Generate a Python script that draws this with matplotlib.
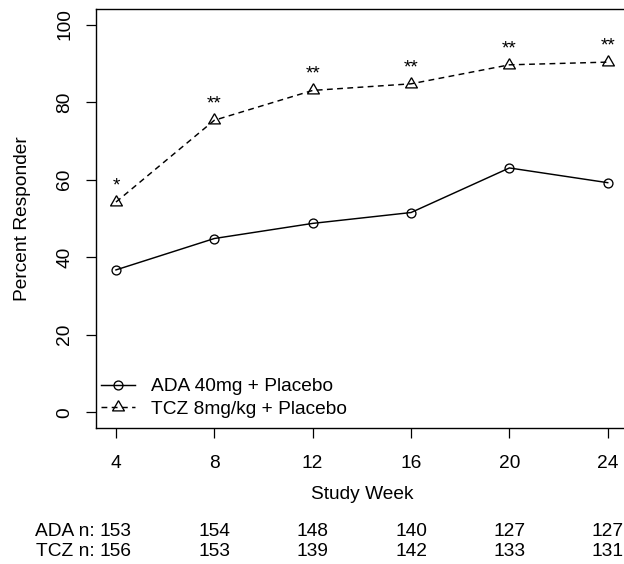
import matplotlib
matplotlib.use("Agg")
import matplotlib.pyplot as plt
import matplotlib.transforms as mtransforms

weeks = [4, 8, 12, 16, 20, 24]
ada_pct = [36.7, 44.8, 48.7, 51.5, 63.0, 59.2]
tcz_pct = [54.2, 75.3, 83.0, 84.7, 89.6, 90.3]
signif = ["*", "**", "**", "**", "**", "**"]
ada_n = [153, 154, 148, 140, 127, 127]
tcz_n = [156, 153, 139, 142, 133, 131]
yticks = [0, 20, 40, 60, 80, 100]
ada_label = "ADA 40mg + Placebo"
tcz_label = "TCZ 8mg/kg + Placebo"

plt.rcParams['font.family'] = ['Liberation Sans', 'DejaVu Sans']
FS = 13.8

fig = plt.figure(figsize=(6.24, 5.64), dpi=100)
ax = fig.add_axes([96.3/624, 1-427.7/564, (627.4-96.3)/624, (427.7-9)/564])

tri = [(0, 1), (-0.866, -0.5), (0.866, -0.5), (0, 1)]

ax.plot(weeks, ada_pct, color='black', lw=1.05, marker='o', ms=6.4,
        mfc='none', mec='black', mew=0.95, label=ada_label)
ax.plot(weeks, tcz_pct, color='black', lw=1.05, ls=(0, (4, 3)), marker=tri, ms=9.8,
        mfc='none', mec='black', mew=0.95, label=tcz_label)

for w, v, s in zip(weeks, tcz_pct, signif):
    ax.text(w, v + 4.2, s, ha='center', va='center', fontsize=FS, color='black')

ax.set_xlim(3.2, 24.8)
ax.set_ylim(-4, 104)
ax.set_xticks(weeks)
ax.set_xticklabels([str(w) for w in weeks], fontsize=FS)
ax.set_yticks(yticks)
ax.set_yticklabels([str(t) for t in yticks], fontsize=FS, rotation=90, va='center')
ax.tick_params(axis='both', length=7.5, width=0.9, color='black')
ax.tick_params(axis='x', pad=12)
ax.tick_params(axis='y', pad=9)
for sp in ax.spines.values():
    sp.set_linewidth(1.0)
ax.spines['right'].set_visible(False)

ax.set_xlabel("Study Week", fontsize=FS, labelpad=10)
ax.set_ylabel("Percent Responder", fontsize=FS, labelpad=18)

leg = ax.legend(loc='upper left', bbox_to_anchor=(101/624, 1-378/564),
                bbox_transform=fig.transFigure, frameon=False, fontsize=FS,
                handlelength=1.75, handletextpad=0.85, labelspacing=0.28,
                borderpad=0, borderaxespad=0)

trans = mtransforms.blended_transform_factory(ax.transData, fig.transFigure)
y1 = 1 - 531/564
y2 = 1 - 552/564
for w, a, t in zip(weeks, ada_n, tcz_n):
    ax.text(w, y1, str(a), transform=trans, ha='center', va='center', fontsize=FS, clip_on=False)
    ax.text(w, y2, str(t), transform=trans, ha='center', va='center', fontsize=FS, clip_on=False)
ax.text(weeks[0] - 0.88, y1, "ADA n:", transform=trans, ha='right', va='center', fontsize=FS)
ax.text(weeks[0] - 0.88, y2, "TCZ n:", transform=trans, ha='right', va='center', fontsize=FS)

fig.savefig("out.png", dpi=100)
